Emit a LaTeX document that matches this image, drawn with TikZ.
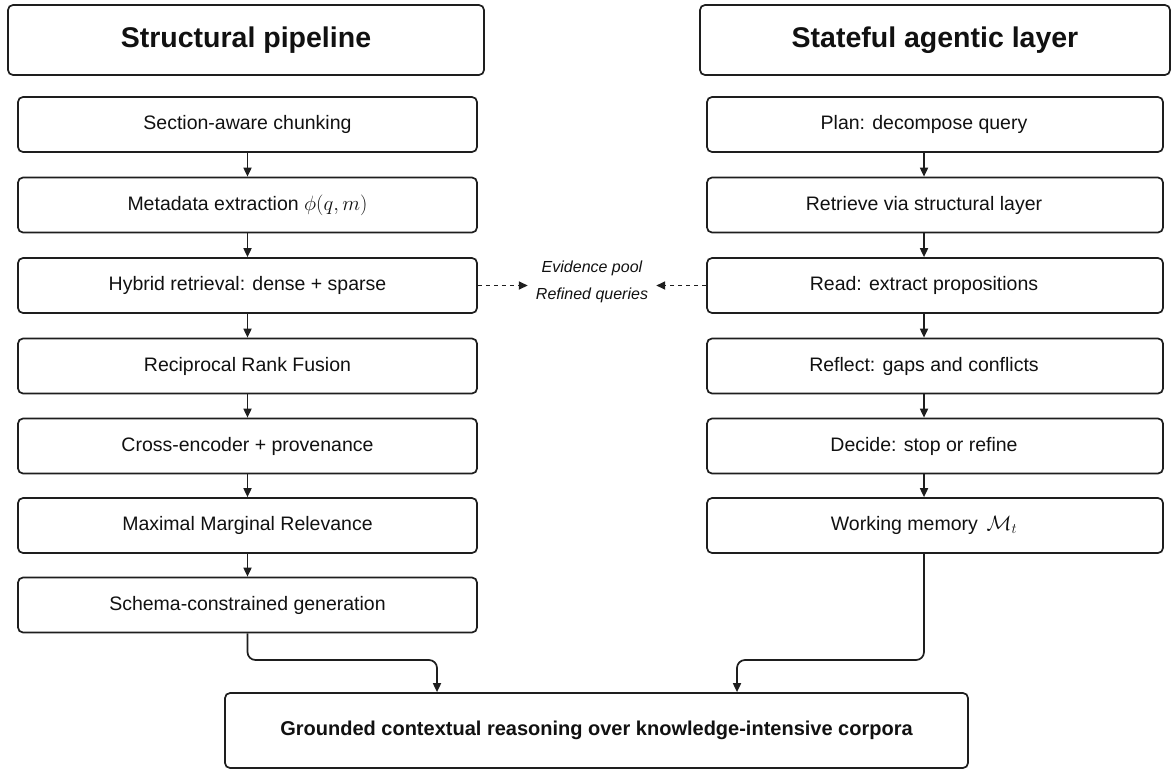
\documentclass[tikz,border=0pt]{standalone}
\usepackage{fontspec}
\setmainfont{Liberation Sans}
\usetikzlibrary{arrows.meta}
\definecolor{ink}{HTML}{1E1E1E}
\definecolor{txt}{HTML}{111111}
\tikzset{
  box/.style={draw=ink, line width=1.7pt, rounded corners=5pt, minimum height=55pt, inner sep=0pt, text=txt},
  lbox/.style={box, minimum width=459pt},
  rbox/.style={box, minimum width=456pt},
  steptext/.style={font=\fontsize{19.5}{23}\selectfont, text=txt, inner sep=0pt},
  headbox/.style={box, minimum height=70pt, font=\fontsize{28.5}{32}\selectfont\bfseries},
  flow/.style={draw=ink, line width=1.7pt, -{Triangle[length=9pt,width=8pt]}},
  feedback/.style={flow, dash pattern=on 4.5pt off 3.5pt},
}
\begin{document}
\begin{tikzpicture}[x=1pt,y=-1pt]
\useasboundingbox[fill=white] (0,0) rectangle (1172,771);

% column headers
\node[headbox, minimum width=476pt] (hl) at (246,40) {Structural pipeline};
\node[headbox, minimum width=470pt] (hr) at (935,40) {Stateful agentic layer};

% structural pipeline
\node[lbox, steptext] (l1) at (247.5,124.5) {Section-aware chunking};
\node[lbox, steptext] (l2) at (247.5,205) {Metadata extraction $\phi(q,m)$};
\node[lbox, steptext] (l3) at (247.5,285.5) {Hybrid retrieval: dense + sparse};
\node[lbox, steptext] (l4) at (247.5,366) {Reciprocal Rank Fusion};
\node[lbox, steptext] (l5) at (247.5,446) {Cross-encoder + provenance};
\node[lbox, steptext] (l6) at (247.5,525.5) {Maximal Marginal Relevance};
\node[lbox, steptext] (l7) at (247.5,605) {Schema-constrained generation};

\foreach \a/\b in {l1/l2,l2/l3,l3/l4,l4/l5,l5/l6,l6/l7}
  \draw[flow] (\a.south) -- (\b.north);

% stateful agentic layer: frames, then their labels
\foreach \i/\y in {1/124.5,2/205,3/285.5,4/366,5/446,6/525.5}
  \node[rbox] (r\i) at (935,\y) {};
\node[steptext] (rt1) at (924,124.5) {Plan: decompose query};
\node[steptext] (rt2) at (924,205) {Retrieve via structural layer};
\node[steptext] (rt3) at (924,285.5) {Read: extract propositions};
\node[steptext] (rt4) at (924,366) {Reflect: gaps and conflicts};
\node[steptext] (rt5) at (924,446) {Decide: stop or refine};
\node[steptext] (rt6) at (924,525.5) {Working memory \,$\mathcal{M}_t$};

\foreach \a/\b in {1/2,2/3,3/4,4/5,5/6}
  \draw[flow] (rt\a |- r\a.south) -- (rt\a |- r\b.north);

% shared exchange between the two columns
\node[font=\fontsize{16}{27}\selectfont\itshape, align=center, inner xsep=8pt, inner ysep=0pt, text=txt]
  (mid) at (592,281.5) {Evidence pool\\Refined queries};
\draw[feedback] (l3.east) -- (l3.east -| mid.west);
\draw[feedback] (r3.west) -- (r3.west -| mid.east);

% final output
\node[box, minimum width=743pt, minimum height=75pt, font=\fontsize{20}{24}\selectfont\bfseries]
  (out) at (596.5,730.5) {Grounded contextual reasoning over knowledge-intensive corpora};

\coordinate (bend) at (0,660);
\coordinate (inL) at (437,0);
\coordinate (inR) at (737,0);
\draw[flow, rounded corners=8pt] (l7.south) -- (l7.south |- bend) -| (out.north -| inL);
\draw[flow, rounded corners=8pt] (rt6 |- r6.south) -- (rt6 |- bend) -| (out.north -| inR);
\end{tikzpicture}
\end{document}
